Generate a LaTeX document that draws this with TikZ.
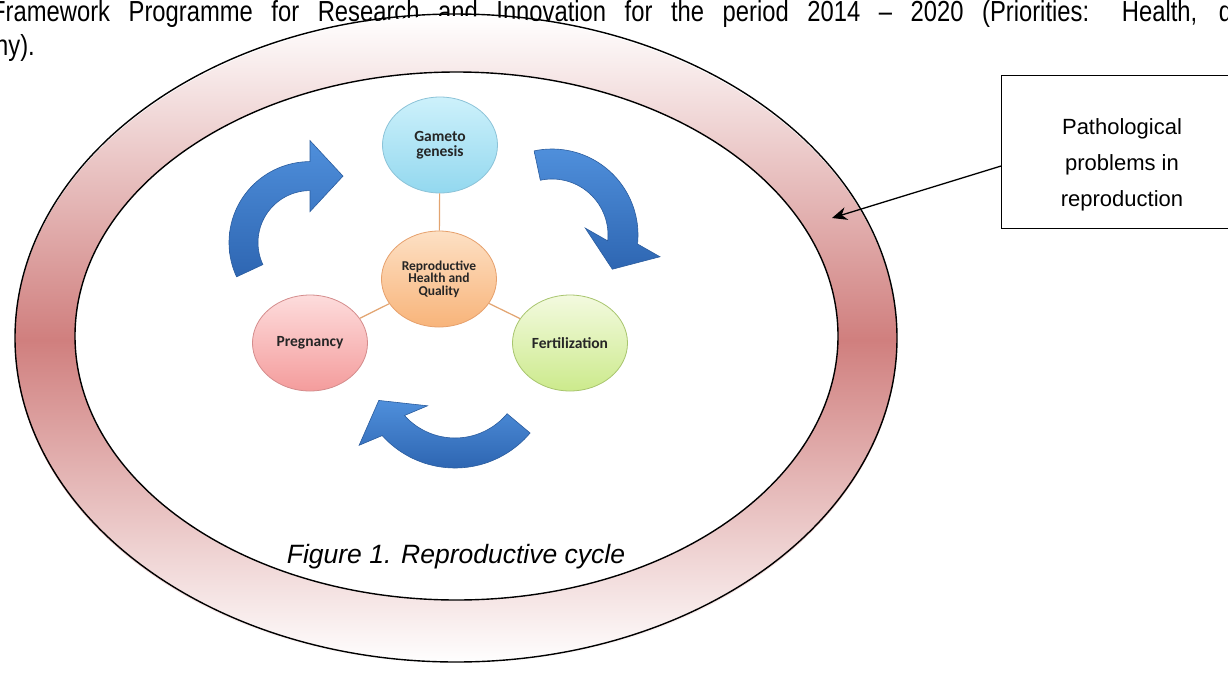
\documentclass[tikz,border=0pt]{standalone}
\usepackage{fontspec}
\setmainfont{Liberation Sans}
\newfontfamily\smartfont{Carlito}
\newfontfamily\narrowfont[FakeStretch=0.82]{Liberation Sans}
\usetikzlibrary{shapes.geometric,arrows.meta,calc}

\definecolor{ringdark}{HTML}{D07F7E}
\definecolor{gamtop}{HTML}{CDF1FB}
\definecolor{gambot}{HTML}{93D8EF}
\definecolor{gamline}{HTML}{8CC3D8}
\definecolor{reptop}{HTML}{FDE0C4}
\definecolor{repbot}{HTML}{F8B47A}
\definecolor{repline}{HTML}{E6A06C}
\definecolor{pretop}{HTML}{FDDCDC}
\definecolor{prebot}{HTML}{F49C9C}
\definecolor{preline}{HTML}{D48C8C}
\definecolor{fertop}{HTML}{F3FADF}
\definecolor{ferbot}{HTML}{CCEA8C}
\definecolor{ferline}{HTML}{A8C56E}
\definecolor{linkcol}{HTML}{E2A470}
\definecolor{arrtop}{HTML}{4F8FDB}
\definecolor{arrbot}{HTML}{2E66B2}
\definecolor{arredge}{HTML}{2A5C9E}
\definecolor{txtcol}{HTML}{262626}

\newcommand{\bluearc}[9]{%
 \draw[cyclearrow] plot[domain=#5:#6, samples=40] ({#1+#3*cos(\x)},{#2+#3*sin(\x)})
  -- ({#1+0.5*(#3+#4)*cos(#6)+(0.5*(#3-#4)+#7)*cos(#6+#9)},{#2+0.5*(#3+#4)*sin(#6)+(0.5*(#3-#4)+#7)*sin(#6+#9)})
  -- ({#1+0.5*(#3+#4)*cos(#6)+#8*cos(#6+90+#9)},{#2+0.5*(#3+#4)*sin(#6)+#8*sin(#6+90+#9)})
  -- ({#1+0.5*(#3+#4)*cos(#6)-(0.5*(#3-#4)+#7)*cos(#6+#9)},{#2+0.5*(#3+#4)*sin(#6)-(0.5*(#3-#4)+#7)*sin(#6+#9)})
  -- plot[domain=#6:#5, samples=40] ({#1+#4*cos(\x)},{#2+#4*sin(\x)})
  -- cycle;}

\begin{document}
\begin{tikzpicture}[x=1pt,y=-1pt,
  bubble/.style={ellipse, minimum width=115pt, minimum height=96pt, inner sep=0pt,
    line width=0.8pt, align=center, text=txtcol,
    font=\smartfont\bfseries\fontsize{15.5}{15}\selectfont},
  link/.style={draw=linkcol, line width=1.2pt},
  cyclearrow/.style={draw=arredge, line width=0.6pt, top color=arrtop, bottom color=arrbot},
  ringline/.style={draw=black, line width=1.4pt},
  callout/.style={draw=black, line width=1.3pt, minimum width=240pt, minimum height=153pt, inner sep=0pt},
  calloutlabel/.style={inner sep=0pt, align=center, font=\fontsize{22}{36}\selectfont},
  bodytext/.style={anchor=base west, inner sep=0pt, font=\narrowfont\fontsize{29}{33}\selectfont}
]
\useasboundingbox (0,0) rectangle (1228,675);
\clip (0,0) rectangle (1228,675);
\fill[white] (0,0) rectangle (1228,675);

% surrounding text
\node[bodytext] (line1) at (-9,21.5) {\makebox[1241pt][s]{Framework Programme for Research and Innovation for the period 2014 – 2020 (Priorities: Health, d}};
\node[bodytext] (line2) at (-5,55) {ny).};

% ring
\path[top color=white, bottom color=white, middle color=ringdark] (456,340) ellipse [x radius=441, y radius=324];
\draw[ringline] (456,338) ellipse [x radius=441, y radius=324];
\draw[ringline, fill=white] (456.5,336) ellipse [x radius=381.5, y radius=264];

% cycle arrows
\bluearc{310}{242.6}{81}{52}{155}{270}{21}{33}{0}
\bluearc{552}{235}{86}{56}{258}{366}{25}{28.7}{15}
\bluearc{455}{370}{98}{68}{40}{138}{24.5}{29}{12}

% bubbles
\node[bubble, draw=gamline, top color=gamtop, bottom color=gambot] (gam) at (440,145) {Gameto\\genesis};
\node[bubble, draw=repline, top color=reptop, bottom color=repbot,
  font=\smartfont\bfseries\fontsize{13.5}{12.5}\selectfont] (rep) at (439,279) {Reproductive\\Health and\\Quality};
\node[bubble, draw=preline, top color=pretop, bottom color=prebot] (pre) at (310,343) {Pregnancy};
\node[bubble, draw=ferline, top color=fertop, bottom color=ferbot] (fer) at (570,343) {Fertilization};

\draw[link] (gam) -- (rep);
\draw[link] (rep) -- (pre);
\draw[link] (rep) -- (fer);

% caption
\node[anchor=base, inner sep=0pt, font=\itshape\fontsize{26.5}{30}\selectfont] (cap) at (456,563) {Figure 1. Reproductive cycle};

% callout
\node[callout, anchor=north west] (box) at (1001,75) {};
\node[calloutlabel] (boxlabel) at (1122,165) {Pathological\\problems in\\reproduction};
\coordinate (hit) at (832,218);
\draw[line width=1.3pt, -{Stealth[length=15pt,width=13pt]}] ($(box.south west)!0.41!(box.north west)$) -- (hit);
\end{tikzpicture}
\end{document}
